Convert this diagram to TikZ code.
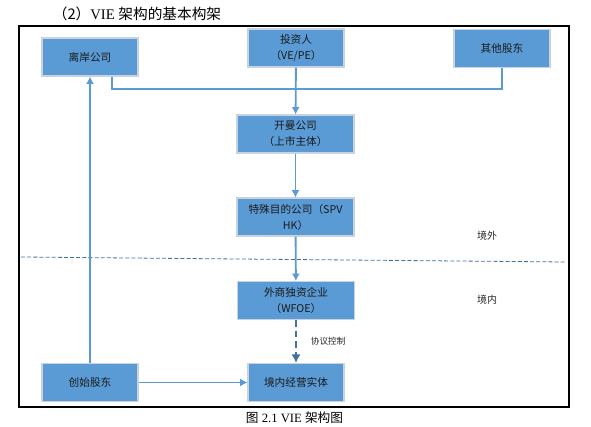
\documentclass[tikz,border=0pt]{standalone}
\usepackage{fontspec}
\setmainfont{Liberation Serif}
\newfontfamily\cjk{Noto Sans CJK SC}
\usetikzlibrary{arrows.meta,positioning}
\definecolor{boxblue}{HTML}{5B9BD5}
\definecolor{linkblue}{HTML}{5B9BD5}
\definecolor{deepblue}{HTML}{41719C}
\definecolor{edge}{HTML}{C9D3DE}

\begin{document}
\begin{tikzpicture}[
  x=0.75pt,y=-0.75pt,
  >={Latex[length=5.5pt,width=6pt]},
  box/.style={draw=edge,line width=0.8pt,fill=boxblue,align=center,
    minimum width=72pt,minimum height=28.5pt,inner sep=1pt,
    font=\cjk\fontsize{8}{12}\selectfont,text=black!90},
  widebox/.style={box,minimum width=87.75pt},
  link/.style={draw=linkblue,line width=1.4pt},
  note/.style={font=\cjk\fontsize{7.5}{9}\selectfont,text=black!85}
]
  \useasboundingbox (0,0) rectangle (591,427);

  \node[font=\fontsize{11}{13}\selectfont] (title) at (137,14)
    {{\cjk （2）}VIE {\cjk 架构的基本构架}};

  \draw[line width=0.9pt] (19,26) rectangle (569,407);

  \node[box] (offshore) at (90,57) {离岸公司};
  \node[box] (investor) at (296,48) {投资人\\（VE/PE）};
  \node[box] (others) at (502,48.5) {其他股东};
  \node[widebox] (cayman) at (295.5,134) {开曼公司\\（上市主体）};
  \node[widebox] (spv) at (295.5,217) {特殊目的公司（SPV\\HK）};
  \node[widebox] (wfoe) at (296,300.5) {外商独资企业\\（WFOE）};
  \node[box] (domestic) at (296,382.5) {境内经营实体};
  \node[box] (founder) at (90,382.5) {创始股东};

  \draw[deepblue,line width=0.6pt,dash pattern=on 3pt off 1.6pt]
    (21,257) -- (566,262);

  \node[note] (abroad) at (487,236) {境外};
  \node[note] (inland) at (487,300) {境内};

  \coordinate (join) at (296,89);
  \draw[link] ([xshift=16.5pt]offshore.south) |- (join) -| (others.south);
  \draw[link,->] (investor) -- (cayman);
  \draw[link,->] (cayman) -- (spv);
  \draw[link,->] (spv) -- (wfoe);
  \draw[draw=deepblue,line width=1.6pt,dash pattern=on 5pt off 3pt,
    -{Latex[length=6.5pt,width=7pt]}] (wfoe) -- (domestic)
    node[midway,right=7pt,note,font=\cjk\fontsize{6.5}{8}\selectfont] (pact) {协议控制};
  \draw[link,->] (founder) -- (domestic);
  \draw[link,->] (founder) -- (offshore);

  \node[font=\fontsize{9.5}{11}\selectfont] (caption) at (294.5,418)
    {{\cjk 图} 2.1 VIE {\cjk 架构图}};
\end{tikzpicture}
\end{document}
